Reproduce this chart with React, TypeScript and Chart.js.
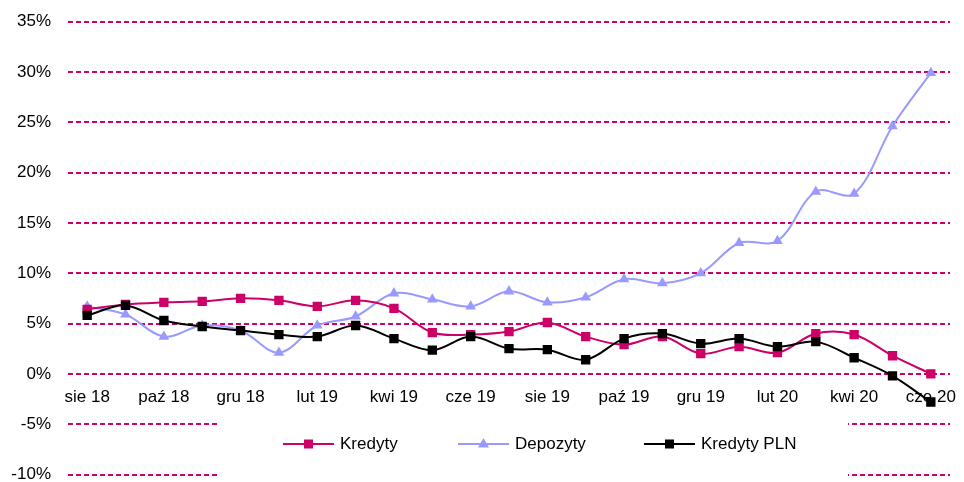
import React, { useEffect, useRef } from "react";
import { Chart, registerables } from "chart.js";

Chart.register(...registerables);

const categories = [
  "sie 18", "wrz 18", "paź 18", "lis 18", "gru 18", "sty 19", "lut 19", "mar 19",
  "kwi 19", "maj 19", "cze 19", "lip 19", "sie 19", "wrz 19", "paź 19", "lis 19",
  "gru 19", "sty 20", "lut 20", "mar 20", "kwi 20", "maj 20", "cze 20",
];

const kredyty = [6.4, 6.9, 7.1, 7.2, 7.5, 7.3, 6.7, 7.3, 6.5, 4.1, 3.9, 4.2, 5.1, 3.7, 2.9, 3.7, 2.0, 2.7, 2.1, 4.0, 3.9, 1.8, 0.0];
const depozyty = [6.7, 5.9, 3.7, 4.8, 4.3, 2.1, 4.8, 5.7, 8.0, 7.4, 6.7, 8.2, 7.1, 7.6, 9.4, 9.0, 10.0, 13.0, 13.2, 18.1, 17.9, 24.6, 29.9];
const kredytyPLN = [5.8, 6.8, 5.3, 4.7, 4.3, 3.9, 3.7, 4.8, 3.5, 2.35, 3.7, 2.5, 2.4, 1.4, 3.5, 4.0, 3.0, 3.5, 2.7, 3.2, 1.6, -0.2, -2.8];

const yTicks = { min: -10, max: 35, step: 5 };

const MAGENTA = "#CC0066";
const LAVENDER = "#9999FF";
const BLACK = "#000000";
const FONT = '"Liberation Sans", Arial, sans-serif';

export default function App() {
  const ref = useRef<HTMLCanvasElement>(null);

  useEffect(() => {
    document.body.style.margin = "0";
    if (!ref.current) return;

    const customPlugin = {
      id: "customDraw",
      beforeDatasetsDraw(chart: any) {
        const { ctx, scales } = chart;
        const x = scales.x;
        const y = scales.y;
        ctx.save();
        // legend background box
        ctx.fillStyle = "#ffffff";
        ctx.fillRect(220, 408, 628, 74);
        // x-axis labels
        ctx.font = `17px ${FONT}`;
        ctx.fillStyle = "#000";
        ctx.textAlign = "center";
        ctx.textBaseline = "middle";
        const ly = y.getPixelForValue(0) + 23;
        categories.forEach((c, i) => {
          if (i % 2 === 0) ctx.fillText(c, x.getPixelForValue(i), ly);
        });
        // legend
        const items = [
          { label: "Kredyty", color: MAGENTA, style: "rect", x0: 283 },
          { label: "Depozyty", color: LAVENDER, style: "triangle", x0: 458 },
          { label: "Kredyty PLN", color: BLACK, style: "rect", x0: 644 },
        ];
        const legY = 444;
        items.forEach((it) => {
          ctx.strokeStyle = it.color;
          ctx.lineWidth = 2;
          ctx.beginPath();
          ctx.moveTo(it.x0, legY);
          ctx.lineTo(it.x0 + 51, legY);
          ctx.stroke();
          ctx.fillStyle = it.color;
          const cx = it.x0 + 25.5;
          if (it.style === "rect") {
            ctx.fillRect(cx - 4.5, legY - 4.5, 9, 9);
          } else {
            ctx.beginPath();
            ctx.moveTo(cx, legY - 6);
            ctx.lineTo(cx + 5.5, legY + 3.5);
            ctx.lineTo(cx - 5.5, legY + 3.5);
            ctx.closePath();
            ctx.fill();
          }
          ctx.fillStyle = "#000";
          ctx.textAlign = "left";
          ctx.fillText(it.label, it.x0 + 57, legY);
        });
        ctx.restore();
      },
    };

    const chart = new Chart(ref.current, {
      type: "line",
      data: {
        labels: categories,
        datasets: [
          {
            label: "Kredyty PLN",
            data: kredytyPLN,
            borderColor: BLACK,
            backgroundColor: BLACK,
            borderWidth: 2,
            pointStyle: "rect",
            pointRadius: 6.6,
            pointBorderWidth: 0,
            tension: 0.35,
            order: 0,
          },
          {
            label: "Kredyty",
            data: kredyty,
            borderColor: MAGENTA,
            backgroundColor: MAGENTA,
            borderWidth: 2,
            pointStyle: "rect",
            pointRadius: 6.6,
            pointBorderWidth: 0,
            tension: 0.35,
            order: 1,
          },
          {
            label: "Depozyty",
            data: depozyty,
            borderColor: LAVENDER,
            backgroundColor: LAVENDER,
            borderWidth: 2,
            pointStyle: "triangle",
            pointRadius: 6.2,
            pointBorderWidth: 0,
            tension: 0.35,
            order: 2,
          },
        ],
      },
      options: {
        animation: false,
        responsive: true,
        maintainAspectRatio: false,
        layout: { padding: { top: 21.5, right: 14, bottom: 7.5, left: 0 } },
        plugins: {
          legend: { display: false },
          tooltip: { enabled: false },
        },
        scales: {
          x: {
            display: false,
            offset: true,
          },
          y: {
            min: yTicks.min,
            max: yTicks.max,
            ticks: {
              stepSize: yTicks.step,
              callback: (v: any) => `${v}%`,
              padding: 17,
              color: "#000",
              font: { size: 17, family: FONT },
            },
            grid: {
              color: MAGENTA,
              lineWidth: 2,
              drawTicks: false,
            },
            border: { display: false, dash: [5, 3] },
            afterFit: (s: any) => {
              s.width = 68;
              s.paddingTop = 0;
              s.paddingBottom = 0;
            },
          },
        },
      },
      plugins: [customPlugin],
    });

    return () => chart.destroy();
  }, []);

  return (
    <div style={{ width: 964, height: 482, position: "relative" }}>
      <canvas ref={ref} />
    </div>
  );
}
